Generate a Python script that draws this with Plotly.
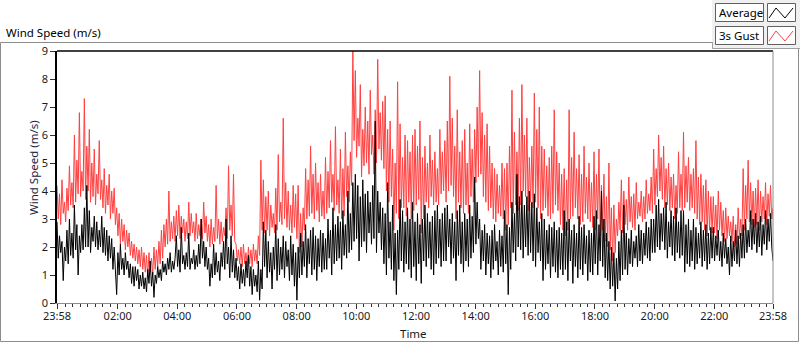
import plotly.graph_objects as go

# Sample interval (minutes) from the 23:58 start
STEP_MIN = 2.5

gust = [
    4.2, 3.0, 3.9, 2.8, 4.4, 3.2, 3.6, 2.9, 4.1, 3.3, 4.9, 3.5, 4.3, 3.4, 6.0, 3.6, 5.1, 3.9, 6.8, 3.8, 4.7, 4.0, 7.3, 3.7,
    5.6, 4.0, 6.2, 3.6, 5.0, 3.8, 5.5, 3.5, 4.6, 3.9, 5.8, 3.7, 4.4, 3.4, 4.8, 3.2, 4.2, 3.5, 4.6, 3.0, 4.0, 3.2, 4.1, 2.8,
    3.4, 2.4, 3.2, 2.1, 3.0, 2.2, 2.8, 1.9, 2.6, 2.0, 2.5, 1.7, 2.2, 1.6, 2.1, 1.5, 2.0, 1.4, 1.9, 1.3, 2.0, 1.2, 1.8, 1.1,
    1.7, 0.9, 1.8, 1.1, 1.6, 1.0, 2.0, 1.2, 1.9, 1.3, 2.2, 1.4, 2.6, 1.6, 2.8, 2.0, 3.0, 2.1, 4.0, 2.2, 2.9, 2.3, 3.1, 2.2,
    3.3, 2.4, 3.5, 2.3, 3.1, 2.5, 3.0, 2.2, 2.9, 2.3, 3.6, 2.4, 3.2, 2.5, 2.9, 2.2, 3.2, 2.3, 2.8, 2.4, 3.0, 2.3, 3.6, 2.5,
    3.1, 2.2, 2.8, 2.0, 3.0, 2.1, 2.7, 2.2, 4.2, 2.3, 3.0, 2.1, 2.9, 2.2, 2.7, 2.4, 3.4, 2.3, 4.9, 2.6, 3.5, 2.4, 4.6, 2.2,
    2.1, 1.5, 1.9, 1.4, 2.0, 1.3, 2.1, 1.4, 1.8, 1.3, 2.0, 1.4, 1.9, 1.3, 2.1, 1.5, 1.9, 1.4, 2.4, 1.7, 5.1, 2.6, 4.4, 2.5,
    3.8, 2.6, 4.0, 2.4, 3.5, 2.7, 3.2, 2.5, 4.1, 2.6, 5.3, 2.9, 3.6, 2.8, 6.6, 3.0, 4.3, 2.7, 4.0, 2.6, 3.5, 2.5, 4.2, 2.7,
    3.9, 2.3, 4.2, 1.8, 3.2, 2.0, 3.4, 2.6, 4.8, 3.0, 4.4, 3.1, 5.6, 3.2, 4.6, 3.0, 5.0, 3.3, 4.3, 2.9, 4.6, 3.1, 4.0, 3.0,
    5.2, 3.2, 4.7, 3.4, 5.8, 3.6, 4.6, 3.3, 6.3, 3.5, 4.4, 3.2, 5.5, 3.0, 4.8, 3.1, 6.1, 3.8, 4.9, 3.6, 5.4, 4.2, 9.0, 5.8,
    8.3, 5.2, 6.6, 5.6, 7.8, 4.5, 6.2, 4.9, 7.0, 5.0, 6.5, 4.6, 7.6, 5.3, 6.0, 4.6, 6.9, 5.0, 8.7, 5.5, 6.8, 5.1, 7.2, 4.8,
    7.4, 4.0, 6.2, 3.6, 6.5, 3.8, 5.5, 2.6, 5.0, 3.2, 7.9, 3.0, 6.4, 3.4, 5.2, 3.4, 6.0, 3.1, 5.8, 3.6, 5.4, 3.0, 6.0, 3.3,
    6.2, 3.5, 5.6, 3.7, 6.5, 2.5, 5.2, 3.0, 5.6, 3.6, 5.0, 3.4, 6.0, 3.8, 5.1, 3.5, 5.4, 3.6, 4.8, 3.5, 6.2, 3.9, 5.4, 4.0,
    5.8, 3.6, 6.5, 4.0, 8.1, 4.2, 6.6, 3.8, 5.6, 3.0, 6.9, 3.6, 5.4, 3.4, 5.8, 3.2, 6.2, 3.5, 5.0, 3.2, 6.4, 3.8, 5.5, 3.6,
    6.2, 4.3, 7.0, 4.5, 8.3, 4.6, 6.8, 3.8, 6.0, 3.6, 6.4, 3.3, 5.6, 3.4, 5.0, 3.0, 4.8, 2.9, 4.6, 3.2, 4.2, 3.1, 5.0, 3.0,
    4.8, 2.6, 5.0, 2.8, 5.6, 3.4, 7.6, 3.2, 6.1, 3.5, 5.4, 3.3, 6.6, 3.5, 7.8, 4.0, 6.0, 3.8, 6.6, 3.3, 5.2, 3.6, 5.6, 3.4,
    7.5, 3.6, 6.2, 3.4, 7.0, 3.0, 5.6, 3.3, 5.5, 3.4, 4.9, 3.1, 5.2, 3.0, 5.6, 3.2, 6.9, 3.5, 5.4, 3.3, 5.0, 2.8, 4.6, 2.6,
    4.8, 2.4, 4.4, 2.6, 6.9, 3.0, 5.2, 3.1, 6.1, 3.4, 4.8, 3.0, 5.3, 2.8, 4.6, 2.9, 5.6, 3.2, 4.5, 3.0, 5.0, 2.9, 4.3, 2.7,
    5.4, 2.6, 4.6, 3.0, 5.5, 2.4, 4.2, 2.6, 4.6, 2.2, 3.8, 2.0, 5.0, 1.9, 3.4, 1.5, 3.5, 1.8, 3.0, 2.4, 3.6, 2.6, 4.4, 2.5,
    4.0, 2.8, 3.7, 2.6, 4.5, 2.9, 3.8, 2.7, 3.9, 2.6, 4.3, 3.0, 3.6, 3.1, 4.0, 2.9, 3.8, 3.0, 4.4, 3.2, 3.9, 3.3, 4.5, 3.2,
    5.5, 3.5, 4.8, 3.8, 6.0, 4.0, 5.2, 3.7, 5.6, 3.4, 4.8, 3.5, 5.0, 3.3, 4.5, 3.4, 4.6, 3.0, 4.2, 3.2, 5.4, 3.4, 4.6, 3.3,
    6.1, 3.4, 4.9, 3.6, 5.2, 3.3, 4.6, 3.4, 4.8, 3.2, 5.8, 3.0, 4.5, 2.8, 4.6, 2.9, 4.2, 2.6, 4.4, 2.4, 4.0, 2.6, 3.8, 2.5,
    3.8, 2.5, 3.5, 2.3, 4.0, 2.6, 3.6, 2.4, 3.3, 2.2, 3.4, 2.3, 3.1, 2.4, 2.9, 2.2, 3.1, 2.0, 2.8, 2.1, 3.4, 2.3, 3.0, 2.4,
    4.8, 2.6, 4.2, 3.0, 5.1, 2.9, 4.3, 2.8, 4.0, 2.7, 4.1, 2.8, 4.4, 2.6, 4.0, 2.9, 3.8, 3.0, 4.3, 2.8, 3.9, 3.1, 4.2, 3.0,
    3.4,
]

average = [
    2.9, 1.6, 2.4, 1.8, 2.2, 0.8, 2.0, 1.5, 2.6, 1.4, 3.0, 1.7, 2.5, 1.6, 3.5, 1.9, 2.8, 1.0, 2.4, 1.8, 2.8, 1.9, 3.4, 2.0,
    4.2, 2.0, 3.3, 1.8, 2.7, 2.2, 3.1, 2.0, 2.9, 1.9, 2.6, 2.0, 3.1, 1.8, 2.7, 1.7, 2.6, 1.5, 2.4, 1.6, 2.3, 1.2, 2.0, 1.1,
    0.3, 1.8, 1.0, 2.1, 1.2, 1.6, 1.0, 1.8, 1.2, 1.5, 0.9, 1.4, 0.7, 1.3, 0.6, 1.3, 0.8, 1.2, 0.5, 1.0, 0.6, 1.1, 0.5, 0.9,
    0.4, 1.2, 0.7, 1.5, 0.6, 1.1, 0.2, 1.0, 0.7, 1.3, 0.9, 1.2, 0.8, 1.5, 1.1, 1.4, 1.0, 1.6, 1.2, 1.8, 1.1, 1.5, 1.2, 1.6,
    2.4, 1.3, 1.9, 1.1, 2.7, 1.4, 1.7, 1.2, 1.8, 1.3, 2.5, 1.2, 1.6, 1.4, 1.9, 1.2, 1.7, 1.3, 2.1, 1.4, 3.0, 1.6, 2.2, 1.3,
    2.0, 1.2, 1.6, 0.6, 1.4, 0.9, 2.1, 1.0, 1.8, 1.1, 1.5, 0.8, 1.8, 1.3, 2.2, 1.2, 3.0, 1.4, 2.0, 0.9, 2.4, 1.1, 1.9, 0.9,
    1.6, 0.8, 1.3, 0.5, 1.4, 0.7, 1.2, 0.6, 1.5, 0.9, 1.7, 0.6, 1.3, 0.3, 1.2, 0.6, 1.0, 0.4, 1.5, 0.1, 1.2, 0.5, 2.9, 1.3,
    2.6, 0.9, 2.2, 1.1, 1.8, 0.5, 2.0, 1.2, 2.8, 0.8, 2.3, 1.0, 2.0, 1.2, 2.4, 0.9, 2.2, 1.3, 1.9, 0.8, 2.4, 1.0, 2.1, 0.6,
    1.8, 0.1, 2.0, 0.9, 2.5, 1.0, 2.2, 1.3, 2.8, 0.9, 2.3, 1.4, 2.6, 1.0, 2.7, 1.2, 2.4, 0.8, 2.3, 1.3, 2.6, 1.1, 2.5, 1.2,
    2.3, 1.2, 3.0, 1.6, 2.6, 1.0, 3.4, 1.4, 2.8, 1.5, 3.1, 1.6, 2.9, 1.2, 3.3, 1.7, 2.8, 1.6, 4.0, 1.8, 3.2, 1.9, 4.3, 2.2,
    4.6, 2.3, 4.2, 1.5, 3.8, 2.0, 4.4, 2.2, 3.9, 1.8, 4.0, 2.5, 3.6, 2.1, 4.2, 2.3, 6.5, 1.8, 4.0, 2.5, 3.6, 1.9, 3.4, 1.4,
    3.2, 1.0, 4.3, 1.6, 2.9, 1.2, 3.5, 0.8, 2.5, 0.3, 2.6, 1.2, 3.7, 1.5, 3.3, 1.1, 2.9, 1.4, 3.4, 1.2, 3.0, 0.9, 3.6, 1.3,
    2.9, 0.8, 3.2, 1.4, 2.8, 0.7, 3.0, 1.5, 3.5, 1.3, 3.2, 1.6, 2.9, 1.2, 3.1, 1.0, 3.3, 1.4, 3.5, 1.6, 3.0, 1.3, 3.2, 1.5,
    3.4, 1.5, 3.5, 2.0, 3.0, 1.4, 3.2, 1.6, 2.9, 0.8, 3.3, 1.7, 3.5, 1.4, 2.9, 1.1, 3.2, 1.5, 3.0, 1.3, 3.5, 1.6, 3.1, 1.8,
    4.5, 2.1, 3.6, 2.3, 3.0, 1.2, 2.6, 1.5, 2.8, 1.0, 2.5, 1.4, 2.4, 0.9, 2.6, 1.2, 2.8, 1.5, 2.2, 1.0, 2.6, 1.3, 2.4, 1.1,
    3.3, 1.4, 2.8, 0.3, 2.7, 1.2, 3.6, 1.8, 3.2, 1.5, 4.6, 2.0, 3.8, 1.9, 4.0, 1.6, 3.5, 2.0, 3.8, 1.7, 4.0, 1.8, 3.6, 1.5,
    3.9, 1.3, 3.4, 1.8, 2.9, 1.5, 3.2, 0.8, 3.0, 1.2, 2.6, 1.4, 2.8, 0.9, 2.7, 1.3, 2.9, 1.1, 2.6, 0.9, 2.7, 1.2, 2.5, 1.0,
    3.3, 1.2, 2.9, 0.8, 3.0, 1.5, 2.6, 0.7, 2.8, 1.3, 2.5, 0.9, 3.1, 1.2, 2.7, 1.0, 2.8, 1.4, 2.4, 0.8, 2.6, 1.1, 2.5, 1.0,
    3.1, 1.4, 3.3, 1.0, 2.8, 1.5, 4.0, 1.3, 3.0, 0.9, 2.5, 0.8, 2.2, 0.5, 2.0, 0.6, 1.8, 0.07, 1.6, 0.5, 2.2, 0.8, 2.6, 1.0,
    3.5, 1.2, 2.5, 1.0, 2.3, 1.4, 2.6, 1.3, 2.2, 1.6, 2.4, 1.3, 2.8, 1.5, 2.6, 1.4, 2.5, 1.7, 2.9, 1.6, 2.7, 1.5, 3.0, 1.8,
    3.0, 1.8, 3.5, 2.0, 3.7, 1.9, 3.2, 2.2, 3.4, 1.9, 3.6, 1.6, 2.9, 2.0, 3.3, 1.7, 3.1, 1.5, 3.4, 1.8, 2.9, 1.6, 3.3, 1.7,
    3.3, 1.1, 2.8, 1.4, 3.0, 1.3, 2.6, 1.5, 3.0, 1.2, 2.7, 1.4, 2.5, 1.6, 2.9, 1.3, 2.6, 1.5, 2.8, 1.2, 2.5, 1.4, 2.7, 1.6,
    2.7, 1.5, 2.4, 1.7, 2.6, 1.5, 2.2, 1.3, 2.5, 1.6, 2.3, 1.4, 2.0, 1.0, 2.4, 1.3, 2.2, 1.5, 2.6, 1.4, 2.4, 1.3, 2.5, 1.6,
    2.8, 1.6, 3.0, 1.8, 2.6, 2.0, 3.3, 1.9, 3.0, 2.1, 3.2, 1.8, 2.9, 2.0, 3.1, 1.7, 2.8, 2.1, 3.3, 1.9, 3.0, 2.2, 3.2, 2.0,
    1.5,
]

tick_labels = ["23:58", "02:00", "04:00", "06:00", "08:00", "10:00", "12:00",
               "14:00", "16:00", "18:00", "20:00", "22:00", "23:58"]
tick_hours = [0] + [2 * k + 2 / 60 for k in range(1, 12)] + [24]

hours = [i * STEP_MIN / 60 for i in range(len(gust))]

W, H = 800, 342
L, R, T, B = 57, 773, 51, 303

def px(x):
    return (x - L) / (R - L)

def py(y):
    return (B - y) / (B - T)

FONT = "Noto Sans, Open Sans, DejaVu Sans, sans-serif"
TXT = 11.5
TICK = 11

fig = go.Figure()
fig.add_trace(go.Scatter(x=hours, y=gust, mode="lines", name="3s Gust",
                         line=dict(color="#ff4040", width=1), showlegend=False))
fig.add_trace(go.Scatter(x=hours, y=average, mode="lines", name="Average",
                         line=dict(color="#000000", width=1), showlegend=False))

shapes = []
# outer frame
shapes.append(dict(type="path", xref="paper", yref="paper",
                   path=f"M {px(712)} {py(42.5)} L {px(0.5)} {py(42.5)} L {px(0.5)} {py(341.5)} L {px(798.5)} {py(341.5)} L {px(798.5)} {py(48.5)}",
                   line=dict(color="#8c8c8c", width=1)))
# legend panel
shapes.append(dict(type="rect", xref="paper", yref="paper",
                   x0=px(712), x1=px(800), y0=py(48.5), y1=py(0),
                   fillcolor="#f0f0f0", line=dict(width=0), layer="below"))
shapes.append(dict(type="path", xref="paper", yref="paper",
                   path=f"M {px(712.5)} {py(42)} L {px(712.5)} {py(48.5)} L {px(800)} {py(48.5)}",
                   line=dict(color="#a0a0a0", width=1)))
# plot-area border top/right
shapes.append(dict(type="line", xref="paper", yref="paper",
                   x0=0, x1=1, y0=1, y1=1, line=dict(color="#000000", width=1.5)))
shapes.append(dict(type="line", xref="paper", yref="paper",
                   x0=1, x1=1, y0=0, y1=1, line=dict(color="#8c8c8c", width=1)))

# legend boxes
rows = [(4, "Average", "#000000"), (27, "3s Gust", "#ff4040")]
annotations = []
for top, label, col in rows:
    shapes.append(dict(type="rect", xref="paper", yref="paper",
                       x0=px(715.5), x1=px(763.5), y0=py(top + 17.5), y1=py(top - 0.5),
                       fillcolor="#ffffff", line=dict(color="#606060", width=1)))
    shapes.append(dict(type="rect", xref="paper", yref="paper",
                       x0=px(767.5), x1=px(795.5), y0=py(top + 17.5), y1=py(top - 0.5),
                       fillcolor="#ffffff", line=dict(color="#606060", width=1)))
    shapes.append(dict(type="path", xref="paper", yref="paper",
                       path=f"M {px(769)} {py(top+14)} L {px(776)} {py(top+4)} L {px(785)} {py(top+14)} L {px(793)} {py(top+4)}",
                       line=dict(color=col, width=1)))
    annotations.append(dict(text=label, xref="paper", yref="paper",
                            x=px(717), y=py(top + 8.5), xanchor="left", yanchor="middle",
                            showarrow=False, font=dict(family=FONT, size=TXT, color="#000000")))

annotations.append(dict(text="Wind Speed (m/s)", xref="paper", yref="paper",
                        x=px(4), y=py(32), xanchor="left", yanchor="middle",
                        showarrow=False, font=dict(family=FONT, size=TXT, color="#000000")))
annotations.append(dict(text="Wind Speed (m/s)", xref="paper", yref="paper",
                        x=px(33), y=py(168), xanchor="center", yanchor="middle", textangle=-90,
                        showarrow=False, font=dict(family=FONT, size=TXT, color="#1a2440")))
annotations.append(dict(text="Time", xref="paper", yref="paper",
                        x=px(413), y=py(333), xanchor="center", yanchor="middle",
                        showarrow=False, font=dict(family=FONT, size=TXT, color="#1a1a1a")))

fig.update_layout(
    width=W, height=H,
    margin=dict(l=L, r=W - R, t=T, b=H - B, autoexpand=False),
    paper_bgcolor="#ffffff", plot_bgcolor="#ffffff",
    font=dict(family=FONT, size=TICK, color="#1a1a1a"),
    shapes=shapes, annotations=annotations,
    showlegend=False,
)
fig.update_xaxes(range=[0, 24], tickvals=tick_hours, ticktext=tick_labels, automargin=False,
                 ticks="outside", ticklen=5, tickcolor="#333333", tickwidth=1,
                 ticklabelstandoff=-2,
                 minor=dict(tick0=2 + 2 / 60, dtick=0.25, ticks="outside", ticklen=3,
                            tickcolor="#333333", showgrid=False),
                 showgrid=False, zeroline=False, showline=True, linecolor="#8c8c8c",
                 linewidth=1, tickfont=dict(size=TICK, color="#1a1a1a"))
fig.update_yaxes(range=[0, 9], dtick=1, ticks="outside", ticklen=5, tickcolor="#333333",
                 automargin=False,
                 showgrid=False, zeroline=False, showline=True, linecolor="#000000", linewidth=1.5,
                 tickfont=dict(size=TICK, color="#1a1a1a"))

fig.write_html("out.html", config={"displayModeBar": False},
               post_script="document.body.style.margin='0px';document.body.style.padding='0px';")
